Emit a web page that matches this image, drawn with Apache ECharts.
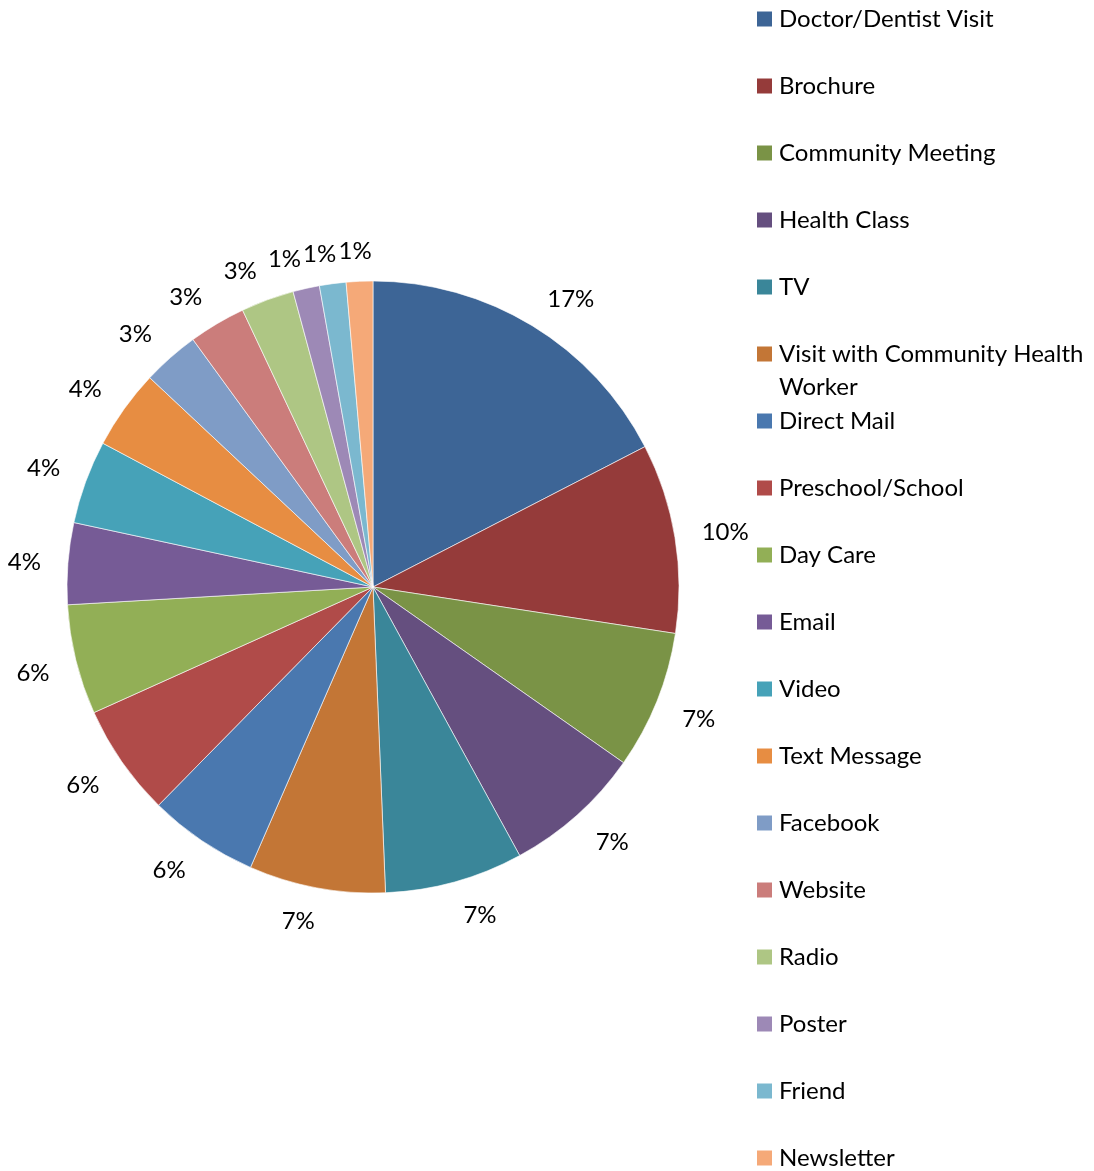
<!DOCTYPE html>
<html>
<head>
<meta charset="utf-8">
<script src="https://cdn.jsdelivr.net/npm/echarts@6/dist/echarts.min.js"></script>
<style>
  html, body { margin: 0; padding: 0; background: #ffffff; }
  #chart { width: 1094px; height: 1171px; }
</style>
</head>
<body>
<div id="chart"></div>
<script>
// Where respondents heard about the program (share of responses, %)
const categories = [
  'Doctor/Dentist Visit', 'Brochure', 'Community Meeting', 'Health Class', 'TV',
  'Visit with Community Health Worker', 'Direct Mail', 'Preschool/School', 'Day Care',
  'Email', 'Video', 'Text Message', 'Facebook', 'Website', 'Radio', 'Poster',
  'Friend', 'Newsletter'
];
const shares = [17.4, 10.0, 7.3, 7.3, 7.3, 7.2, 5.8, 5.9, 5.8, 4.3, 4.4, 4.2, 3.0, 3.0, 2.8, 1.4, 1.4, 1.4];
const sliceColors = [
  '#3d6596', '#953b3a', '#7a9346', '#654f7f', '#3a8699', '#c37636',
  '#4a78af', '#b04b49', '#92af56', '#765b96', '#46a2b8', '#e78d42',
  '#7f9cc6', '#cb7d7b', '#aec684', '#9d89b6', '#7bb8cf', '#f5a978'
];

const CX = 373, CY = 587, RADIUS = 306, LABEL_GAP = 25;
const FONT = 'Lato, "Open Sans", sans-serif';

// legend geometry
const LEGEND_LEFT = 757, LEGEND_FIRST_Y = 19, LEGEND_STEP = 67;
const LEGEND_FONT_SIZE = 24, LEGEND_TEXT_WIDTH = 312, WRAP_LINE_HEIGHT = 33;
const SWATCH = 15;

const total = shares.reduce((a, b) => a + b, 0);
// mid angle of every slice, clockwise from 12 o'clock, in radians
const midAngles = [];
let acc = 0;
shares.forEach(v => {
  midAngles.push((acc + v / 2) / total * Math.PI * 2);
  acc += v;
});
const clamp = (v, lo, hi) => Math.max(lo, Math.min(hi, v));

const measureCtx = document.createElement('canvas').getContext('2d');
measureCtx.font = LEGEND_FONT_SIZE + 'px ' + FONT;
const wraps = name => measureCtx.measureText(name).width > LEGEND_TEXT_WIDTH;

const baseLegend = {
  orient: 'vertical',
  left: LEGEND_LEFT,
  padding: 0,
  icon: 'rect',
  itemWidth: SWATCH,
  itemHeight: SWATCH,
  selectedMode: false,
  itemStyle: { borderWidth: 0 }
};
const baseText = {
  fontFamily: FONT,
  fontSize: LEGEND_FONT_SIZE,
  color: '#000000',
  width: LEGEND_TEXT_WIDTH,
  overflow: 'break',
  padding: [0, 0, 0, 2]
};

// run of one-line entries, every 67px
function plainBlock(startIdx, names) {
  const row = 24;
  return Object.assign({}, baseLegend, {
    top: LEGEND_FIRST_Y + startIdx * LEGEND_STEP - row / 2,
    itemGap: LEGEND_STEP - row,
    data: names,
    textStyle: Object.assign({}, baseText, { lineHeight: row, height: row })
  });
}

// an entry that breaks onto two lines: the swatch sits level with the first line
function wrappedBlock(idx, name) {
  const boxH = 80;
  const c = boxH / 2 - WRAP_LINE_HEIGHT / 2;   // first-line centre inside the item
  const icon = 'path://M0,0h' + SWATCH +
    'M0,' + (c - SWATCH / 2) + 'h' + SWATCH + 'v' + SWATCH + 'h-' + SWATCH + 'z' +
    'M0,' + boxH + 'h' + SWATCH;
  return Object.assign({}, baseLegend, {
    top: LEGEND_FIRST_Y + idx * LEGEND_STEP - c,
    itemHeight: boxH,
    data: [{ name: name, icon: icon }],
    textStyle: Object.assign({}, baseText, { lineHeight: WRAP_LINE_HEIGHT })
  });
}

const legends = [];
let runStart = 0;
categories.forEach((name, i) => {
  if (wraps(name)) {
    if (i > runStart) legends.push(plainBlock(runStart, categories.slice(runStart, i)));
    legends.push(wrappedBlock(i, name));
    runStart = i + 1;
  }
});
if (runStart < categories.length) legends.push(plainBlock(runStart, categories.slice(runStart)));

const chart = echarts.init(document.getElementById('chart'), null, { renderer: 'canvas' });
chart.setOption({
  animation: false,
  backgroundColor: '#ffffff',
  color: sliceColors,
  legend: legends,
  series: [{
    type: 'pie',
    center: [CX, CY],
    radius: RADIUS,
    startAngle: 90,
    clockwise: true,
    avoidLabelOverlap: false,
    data: categories.map((name, i) => ({ name: name, value: shares[i] })),
    itemStyle: { borderColor: '#ffffff', borderWidth: 0.6 },
    emphasis: { disabled: true },
    labelLine: { show: false },
    label: {
      show: true,
      position: 'outside',
      fontFamily: FONT,
      fontSize: 24,
      color: '#000000',
      formatter: p => Math.round(shares[p.dataIndex] / total * 100) + '%'
    },
    // place each label just outside the rim, its inner corner facing the slice
    labelLayout: function (p) {
      const a = midAngles[p.dataIndex];
      const dx = Math.sin(a), dy = -Math.cos(a);
      const w = p.labelRect.width;
      const R = RADIUS + LABEL_GAP;
      const ax = CX + R * dx, ay = CY + R * dy;
      return {
        x: ax + clamp(dx * 4, -1, 1) * (w / 2 + 2),
        y: ay + clamp(dy * 3, -1, 1) * 7 + 2,
        align: 'center',
        verticalAlign: 'middle'
      };
    }
  }]
});
</script>
</body>
</html>
